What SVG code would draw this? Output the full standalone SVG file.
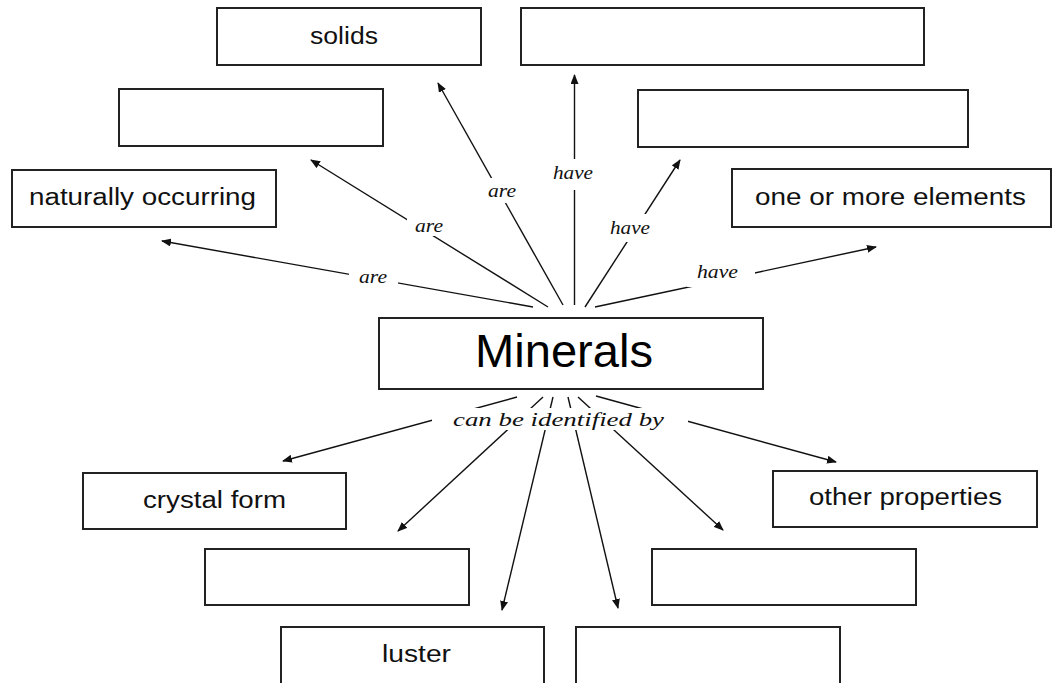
<svg xmlns="http://www.w3.org/2000/svg" width="1053" height="683" viewBox="0 0 1053 683">
<style>
.box{fill:#fff;stroke:#222;stroke-width:2}
.t{font-family:"Liberation Sans",Arial,sans-serif;font-size:23px;fill:#111}
.big{font-family:"Liberation Sans",Arial,sans-serif;font-size:47px;fill:#000}
.lbl{font-family:"Liberation Serif","Times New Roman",serif;font-style:italic;font-size:19px;fill:#111}
.ln{stroke:#111;stroke-width:1.4;fill:none}
.gap{fill:#fff}
</style>
<defs>
<marker id="ah" viewBox="0 0 10 8" refX="9" refY="4" markerWidth="10" markerHeight="8" markerUnits="userSpaceOnUse" orient="auto">
<path d="M0,0 L10,4 L0,8 Z" fill="#111"/>
</marker>
</defs>
<rect width="1053" height="683" fill="#fff"/>
<g id="connectors">
<line class="ln" x1="533" y1="307" x2="162" y2="241" marker-end="url(#ah)"/>
<line class="ln" x1="548" y1="307" x2="311" y2="160" marker-end="url(#ah)"/>
<line class="ln" x1="563" y1="305" x2="438" y2="83" marker-end="url(#ah)"/>
<line class="ln" x1="574.5" y1="305" x2="574.5" y2="75" marker-end="url(#ah)"/>
<line class="ln" x1="585" y1="307" x2="680" y2="160" marker-end="url(#ah)"/>
<line class="ln" x1="595" y1="307" x2="876" y2="247" marker-end="url(#ah)"/>
<line class="ln" x1="517" y1="397" x2="283" y2="461" marker-end="url(#ah)"/>
<line class="ln" x1="543" y1="397" x2="398" y2="531" marker-end="url(#ah)"/>
<line class="ln" x1="553" y1="397" x2="502" y2="610" marker-end="url(#ah)"/>
<line class="ln" x1="568" y1="397" x2="618" y2="608" marker-end="url(#ah)"/>
<line class="ln" x1="578" y1="397" x2="723" y2="530" marker-end="url(#ah)"/>
<line class="ln" x1="596" y1="396" x2="836" y2="462" marker-end="url(#ah)"/>
<rect class="gap" x="349" y="268" width="49" height="20"/>
<text class="lbl" x="359" y="283" textLength="28" lengthAdjust="spacingAndGlyphs">are</text>
<rect class="gap" x="407" y="213" width="40" height="23"/>
<text class="lbl" x="415" y="232" textLength="28" lengthAdjust="spacingAndGlyphs">are</text>
<rect class="gap" x="487" y="178" width="30" height="25"/>
<text class="lbl" x="488" y="197" textLength="28" lengthAdjust="spacingAndGlyphs">are</text>
<rect class="gap" x="551" y="159" width="46" height="31"/>
<text class="lbl" x="553" y="179" textLength="40" lengthAdjust="spacingAndGlyphs">have</text>
<rect class="gap" x="608" y="214" width="44" height="28"/>
<text class="lbl" x="610" y="234" textLength="40" lengthAdjust="spacingAndGlyphs">have</text>
<rect class="gap" x="687" y="262" width="68" height="25"/>
<text class="lbl" x="697" y="278" textLength="41" lengthAdjust="spacingAndGlyphs">have</text>
<rect class="gap" x="432" y="408" width="256" height="22"/>
<text class="lbl" x="453" y="426" textLength="211" lengthAdjust="spacingAndGlyphs">can be identified by</text>
</g>
<g id="minerals"><rect class="box" x="379" y="318" width="384" height="71"/><text class="big" x="475" y="367" textLength="178" lengthAdjust="spacingAndGlyphs">Minerals</text></g>
<g id="solids"><rect class="box" x="217" y="8" width="264" height="57"/><text class="t" x="310" y="44" textLength="68" lengthAdjust="spacingAndGlyphs">solids</text></g>
<g id="blank-top-right"><rect class="box" x="521" y="8" width="403" height="57"/></g>
<g id="blank-left-2"><rect class="box" x="119" y="89" width="264" height="57"/></g>
<g id="blank-right-2"><rect class="box" x="638" y="90" width="330" height="57"/></g>
<g id="naturally-occurring"><rect class="box" x="12" y="170" width="264" height="57"/><text class="t" x="29" y="205" textLength="227" lengthAdjust="spacingAndGlyphs">naturally occurring</text></g>
<g id="one-or-more-elements"><rect class="box" x="732" y="169" width="319" height="58"/><text class="t" x="755" y="205" textLength="271" lengthAdjust="spacingAndGlyphs">one or more elements</text></g>
<g id="crystal-form"><rect class="box" x="83" y="473" width="263" height="56"/><text class="t" x="143" y="508" textLength="143" lengthAdjust="spacingAndGlyphs">crystal form</text></g>
<g id="other-properties"><rect class="box" x="773" y="471" width="264" height="56"/><text class="t" x="809" y="505" textLength="193" lengthAdjust="spacingAndGlyphs">other properties</text></g>
<g id="blank-bottom-left"><rect class="box" x="205" y="549" width="264" height="56"/></g>
<g id="blank-bottom-right"><rect class="box" x="652" y="549" width="264" height="56"/></g>
<g id="luster"><rect class="box" x="281" y="627" width="263" height="57"/><text class="t" x="382" y="662" textLength="69" lengthAdjust="spacingAndGlyphs">luster</text></g>
<g id="blank-bottom-center"><rect class="box" x="576" y="627" width="264" height="57"/></g>
</svg>
